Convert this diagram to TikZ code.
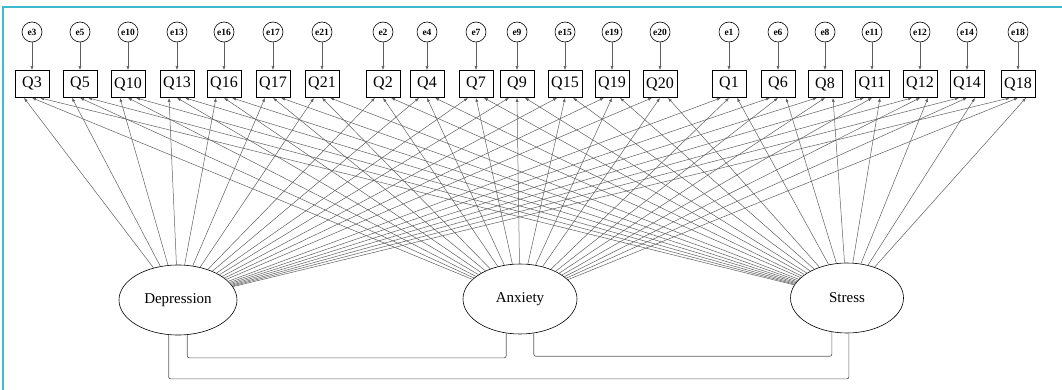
\documentclass[tikz,border=0pt]{standalone}
\usepackage{fontspec}
\setmainfont{Liberation Serif}
\usetikzlibrary{arrows.meta, positioning, shapes.geometric, calc}
\definecolor{framecolor}{RGB}{64,186,206}
\definecolor{linecolor}{RGB}{95,95,95}
\tikzset{
  item/.style   = {draw, rectangle, minimum width=34pt, minimum height=27pt,
                   inner sep=0pt, line width=0.7pt, font=\fontsize{16}{16}\selectfont},
  err/.style    = {draw, circle, minimum size=20pt, inner sep=0pt, line width=0.6pt,
                   font=\bfseries\fontsize{9.5}{9.5}\selectfont},
  factor/.style = {draw, ellipse, minimum width=118pt, minimum height=70pt,
                   line width=0.6pt, font=\fontsize{15}{15}\selectfont},
  load/.style   = {-{Latex[length=4pt,width=3pt]}, draw=linecolor, line width=0.5pt},
  covar/.style  = {draw=linecolor, line width=0.7pt, rounded corners=2pt},
}

\begin{document}
\begin{tikzpicture}[x=1pt, y=-1pt]
  \useasboundingbox (0,0) rectangle (1062,390);
  \draw[framecolor, line width=2pt] (3,390) -- (3,7) -- (1062,7);

  % observed items and their errors
  \foreach \n/\x in {3/32, 5/80, 10/128, 13/177, 16/224, 17/273, 21/322,
                     2/383, 4/427, 7/476, 9/517, 15/565, 19/612, 20/660,
                     1/729, 6/778, 8/825, 11/872, 12/920, 14/967, 18/1018} {
    \node[item] (q\n) at (\x,84) {Q\n};
    \node[err]  (e\n) at (\x,32) {e\n};
    \draw[load] (e\n) -- (q\n);
  }

  % latent factors
  \node[factor] (dep)    at (178,300) {Depression};
  \node[factor, minimum width=114pt] (anx)    at (520,299) {Anxiety};
  \node[factor, minimum width=113pt] (stress) at (847,298) {Stress};

  % loadings
  \foreach \n in {3,5,10,13,16,17,21,2,4,7,9,15,19,20,1,6,8,11,12,14,18} {
    \draw[load] (dep)    -- ($(q\n.south)+(-8,0)$);
    \draw[load] (anx)    -- (q\n.south);
    \draw[load] (stress) -- ($(q\n.south)+(8,0)$);
  }

  % covariances
  \draw[covar] (dep.-75)  -- ++(0,23) -| (anx.-112);
  \draw[covar] (anx.-68)  -- ++(0,23) -| (stress.-114);
  \draw[covar] (dep.-105) -- ++(0,44) -| (stress.-87);
\end{tikzpicture}
\end{document}
